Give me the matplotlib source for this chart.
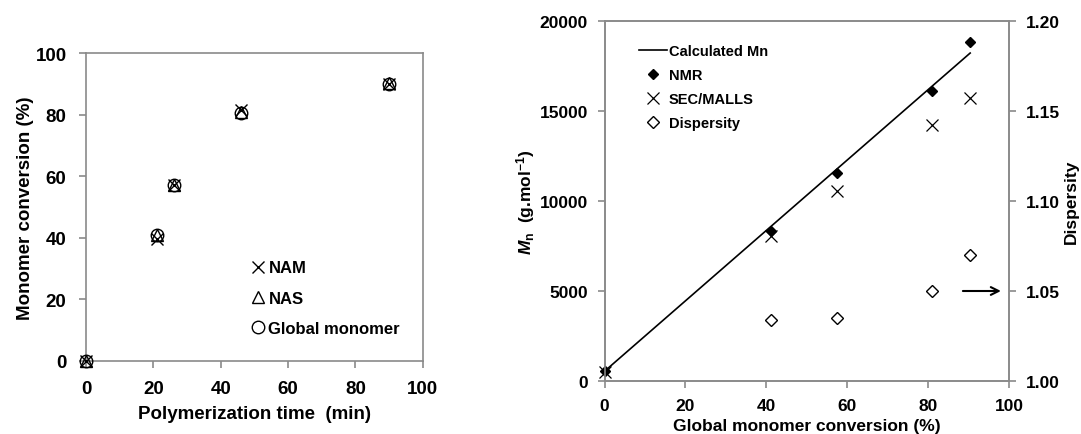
import matplotlib
matplotlib.use("Agg")
import matplotlib.pyplot as plt
from matplotlib.lines import Line2D

plt.rcParams['font.family'] = ['Liberation Sans', 'DejaVu Sans']
plt.rcParams['font.weight'] = 'bold'
plt.rcParams['mathtext.fontset'] = 'custom'
plt.rcParams['mathtext.rm'] = 'Liberation Sans:bold'
plt.rcParams['mathtext.it'] = 'Liberation Sans:bold:italic'
plt.rcParams['mathtext.bf'] = 'Liberation Sans:bold'

# ---- Left panel data ----
time_min = [0, 21, 26, 46, 90]
conv_NAM = [0, 39.6, 57.0, 81.6, 90.0]
conv_NAS = [0, 41.0, 57.2, 81.0, 90.2]
conv_global = [0, 40.9, 57.3, 80.6, 90.0]

# ---- Right panel data ----
glob_conv = [0, 41.2, 57.5, 81.0, 90.4]
mn_nmr = [540, 8320, 11550, 16130, 18850]
mn_sec = [500, 8070, 10570, 14220, 15700]
disp_conv = [41.2, 57.5, 81.0, 90.4]
dispersity = [1.034, 1.035, 1.050, 1.070]
calc_conv = [0, 90.4]
calc_mn = [540, 18220]

SPINE = '#8a8a8a'

fig = plt.figure(figsize=(10.81, 4.35), dpi=100)

def style(ax, pad=9):
    for s in ax.spines.values():
        s.set_color(SPINE)
        s.set_linewidth(1.2)
    ax.tick_params(direction='out', length=5, width=1.2, color=SPINE, pad=pad)

# Left axes
ax1 = fig.add_axes([86/1081, 1-361.7/435, (422.7-86)/1081, (361.7-54.3)/435])
style(ax1)
ax1.plot(time_min, conv_NAM, linestyle='none', marker='x', ms=8, mew=1.0, color='black',
         label='NAM', clip_on=False, zorder=3)
ax1.plot(time_min, conv_NAS, linestyle='none', marker='^', ms=8, mew=1.0, mfc='none', mec='black',
         label='NAS', clip_on=False, zorder=3)
ax1.plot(time_min, conv_global, linestyle='none', marker='o', ms=9, mew=1.0, mfc='none', mec='black',
         label='Global monomer', clip_on=False, zorder=3)
ax1.set_xlim(0, 100)
ax1.set_ylim(0, 100)
ax1.set_xticks([0, 20, 40, 60, 80, 100])
ax1.set_yticks([0, 20, 40, 60, 80, 100])
ax1.tick_params(labelsize=13.5)
ax1.set_xlabel('Polymerization time  (min)', fontsize=13.5, fontweight='bold', labelpad=6)
ax1.set_ylabel('Monomer conversion (%)', fontsize=13.5, fontweight='bold', labelpad=1)
ax1.legend(loc='upper left', bbox_to_anchor=(0.49, 0.326), frameon=False, fontsize=12,
           handlelength=0.8, handletextpad=0.25, labelspacing=0.92, borderpad=0, borderaxespad=0)

# Right axes
ax2 = fig.add_axes([604.5/1081, 1-382/435, (1009-604.5)/1081, (382-22)/435])
style(ax2, pad=7)
ax2.plot(calc_conv, calc_mn, color='black', lw=1.2, label='Calculated Mn')
ax2.plot(glob_conv, mn_nmr, linestyle='none', marker='D', ms=5.5, color='black', label='NMR',
         clip_on=False, zorder=3)
ax2.plot(glob_conv, mn_sec, linestyle='none', marker='x', ms=8, mew=0.9, color='black', label='SEC/MALLS',
         clip_on=False, zorder=3)
ax2.set_xlim(0, 100)
ax2.set_ylim(0, 20000)
ax2.set_xticks([0, 20, 40, 60, 80, 100])
ax2.set_yticks([0, 5000, 10000, 15000, 20000])
ax2.tick_params(labelsize=12.5)
ax2.set_xlabel('Global monomer conversion (%)', fontsize=12.5, fontweight='bold', labelpad=4)
ax2.set_ylabel(r'$M_\mathrm{n}$  (g.mol$^{-1}$)', fontsize=12.5, fontweight='bold', labelpad=2)

ax3 = ax2.twinx()
style(ax3, pad=7)
ax3.plot(disp_conv, dispersity, linestyle='none', marker='D', ms=6, mew=1.0, mfc='white', mec='black',
         label='Dispersity')
ax3.set_ylim(1.00, 1.20)
ax3.set_yticks([1.00, 1.05, 1.10, 1.15, 1.20])
ax3.set_yticklabels(['1.00', '1.05', '1.10', '1.15', '1.20'])
ax3.tick_params(labelsize=12.5)
ax3.set_ylabel('Dispersity', fontsize=12.5, fontweight='bold', labelpad=3)
ax3.annotate('', xy=(98.0, 1.05), xytext=(88.6, 1.05),
             arrowprops=dict(arrowstyle='->', lw=1.5, color='black', mutation_scale=14,
                             shrinkA=0, shrinkB=0))

handles = [
    Line2D([], [], color='black', lw=1.2),
    Line2D([], [], linestyle='none', marker='D', ms=5.5, color='black'),
    Line2D([], [], linestyle='none', marker='x', ms=8, mew=0.9, color='black'),
    Line2D([], [], linestyle='none', marker='D', ms=6, mew=1.0, mfc='white', mec='black'),
]
labels = ['Calculated Mn', 'NMR', 'SEC/MALLS', 'Dispersity']
ax3.legend(handles, labels, loc='upper left', bbox_to_anchor=(0.085, 0.937), frameon=False,
           fontsize=10.5, handlelength=1.9, handletextpad=0.15, labelspacing=0.69,
           borderpad=0, borderaxespad=0)

fig.savefig('out.png', dpi=100)
